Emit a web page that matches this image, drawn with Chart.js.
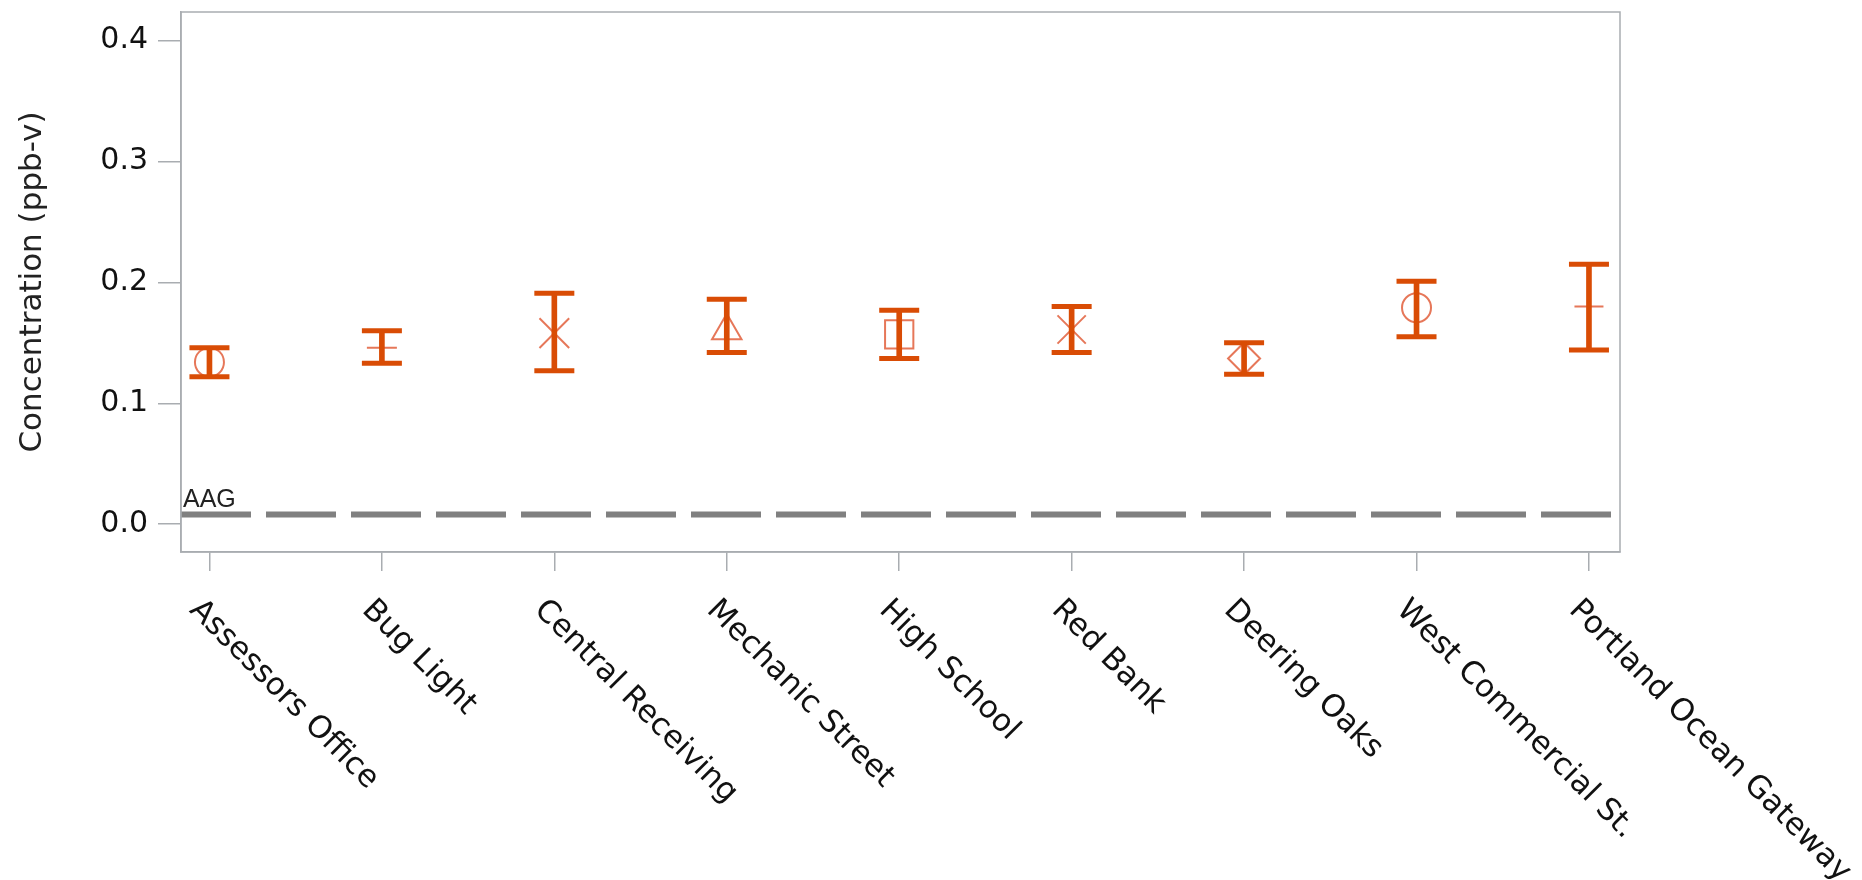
<!DOCTYPE html>
<html>
<head>
<meta charset="utf-8">
<script src="https://cdn.jsdelivr.net/npm/chart.js@4.4.0/dist/chart.umd.min.js"></script>
<style>
    html, body { margin: 0; padding: 0; background: #fff; }
    #wrap { width: 1862px; height: 880px; }
</style>
</head>
<body>
<div id="wrap"><canvas id="chartCanvas"></canvas></div>
<script>
const sites = [
    'Assessors Office', 'Bug Light', 'Central Receiving', 'Mechanic Street', 'High School',
    'Red Bank', 'Deering Oaks', 'West Commercial St.', 'Portland Ocean Gateway'
];
const means = [0.134, 0.146, 0.158, 0.160, 0.157, 0.161, 0.137, 0.179, 0.180];
const lowerLimits = [0.122, 0.133, 0.127, 0.142, 0.137, 0.142, 0.124, 0.155, 0.144];
const upperLimits = [0.146, 0.160, 0.191, 0.186, 0.177, 0.180, 0.150, 0.201, 0.215];
const yTickValues = [0, 0.1, 0.2, 0.3, 0.4];
const aagLevel = 0.008;
const aagLabel = 'AAG';

const barColor = '#d94c05';
const markerColor = 'rgba(226, 95, 60, 0.85)';
const frameColor = '#a9adb1';

Chart.defaults.font.family = '"DejaVu Sans", sans-serif';
Chart.defaults.color = '#111';

// AAG line, frame and slanted site labels
const chartExtras = {
    id: 'chartExtras',
    beforeDatasetsDraw(chart) {
        const {ctx, chartArea, scales: {y}} = chart;
        const yAag = y.getPixelForValue(aagLevel);
        ctx.save();
        ctx.strokeStyle = '#808080';
        ctx.lineWidth = 6;
        ctx.setLineDash([70, 15]);
        ctx.beginPath();
        ctx.moveTo(chartArea.left, yAag);
        ctx.lineTo(chartArea.right, yAag);
        ctx.stroke();
        ctx.setLineDash([]);
        ctx.fillStyle = '#222';
        ctx.font = '25px "Liberation Sans"';
        ctx.textBaseline = 'alphabetic';
        ctx.fillText(aagLabel, chartArea.left + 2, yAag - 8);
        ctx.restore();
    },
    afterDraw(chart) {
        const {ctx, chartArea, scales: {x}} = chart;
        ctx.save();
        ctx.strokeStyle = frameColor;
        ctx.lineWidth = 1.5;
        ctx.strokeRect(chartArea.left, chartArea.top, chartArea.right - chartArea.left, chartArea.bottom - chartArea.top);

        ctx.fillStyle = '#111';
        ctx.font = '31px "DejaVu Sans"';
        ctx.textAlign = 'left';
        ctx.textBaseline = 'alphabetic';
        sites.forEach((label, i) => {
            const px = x.getPixelForValue(i);
            ctx.save();
            ctx.translate(px - 21, chartArea.bottom + 59);
            ctx.rotate(Math.PI / 4);
            ctx.fillText(label, 0, 0);
            ctx.restore();
        });
        ctx.restore();
    }
};

const points = (arr) => arr.map((v, i) => ({x: i, y: v}));

let graph = new Chart(document.querySelector('#chartCanvas'), {
    type: 'scatter',
    data: {
        datasets: [
            {
                type: 'bar',
                data: sites.map((s, i) => ({x: i, y: [lowerLimits[i], upperLimits[i]]})),
                backgroundColor: barColor,
                barThickness: 5,
                borderWidth: 0,
                order: 1
            },
            {
                data: points(lowerLimits).concat(points(upperLimits)),
                pointStyle: 'line',
                pointRadius: 20,
                pointBorderWidth: 5,
                borderColor: barColor,
                order: 1
            },
            {
                data: points(means),
                pointStyle: ['circle', 'cross', 'crossRot', 'triangle', 'rect', 'crossRot', 'rectRot', 'circle', 'cross'],
                pointRadius: [14.5, 15, 21, 17, 20, 20, 16, 14.5, 14.5],
                pointBorderWidth: 2,
                borderColor: markerColor,
                backgroundColor: 'rgba(0,0,0,0)',
                order: 2
            }
        ]
    },
    options: {
        responsive: true,
        maintainAspectRatio: false,
        animation: false,
        layout: { autoPadding: false, padding: { top: 12, right: 242, left: 0, bottom: 0 } },
        plugins: {
            legend: { display: false },
            tooltip: { enabled: false }
        },
        scales: {
            x: {
                type: 'linear',
                min: -0.165,
                max: 8.18,
                offset: false,
                afterBuildTicks: (scale) => { scale.ticks = sites.map((s, i) => ({value: i})); },
                afterFit: (scale) => { scale.height = 328; },
                ticks: { display: false },
                grid: { offset: false, drawOnChartArea: false, drawTicks: true, tickLength: 19, color: frameColor, lineWidth: 1.5 },
                border: { color: frameColor, width: 1.5 }
            },
            y: {
                type: 'linear',
                min: -0.023,
                max: 0.4236,
                afterBuildTicks: (scale) => { scale.ticks = yTickValues.map(v => ({value: v})); },
                afterFit: (scale) => {
                    scale.width = 181;
                    scale.paddingTop = 0;
                    scale.paddingBottom = 0;
                },
                ticks: {
                    font: { size: 30 },
                    color: '#111',
                    padding: 10,
                    callback: (v) => v.toFixed(1)
                },
                grid: { drawOnChartArea: false, drawTicks: true, tickLength: 23, color: frameColor, lineWidth: 1.5 },
                border: { color: frameColor, width: 1.5 },
                title: {
                    display: true,
                    text: 'Concentration (ppb-v)',
                    font: { size: 31 },
                    color: '#222',
                    padding: { top: 14, bottom: 0 }
                }
            }
        }
    },
    plugins: [chartExtras]
});
</script>
</body>
</html>
